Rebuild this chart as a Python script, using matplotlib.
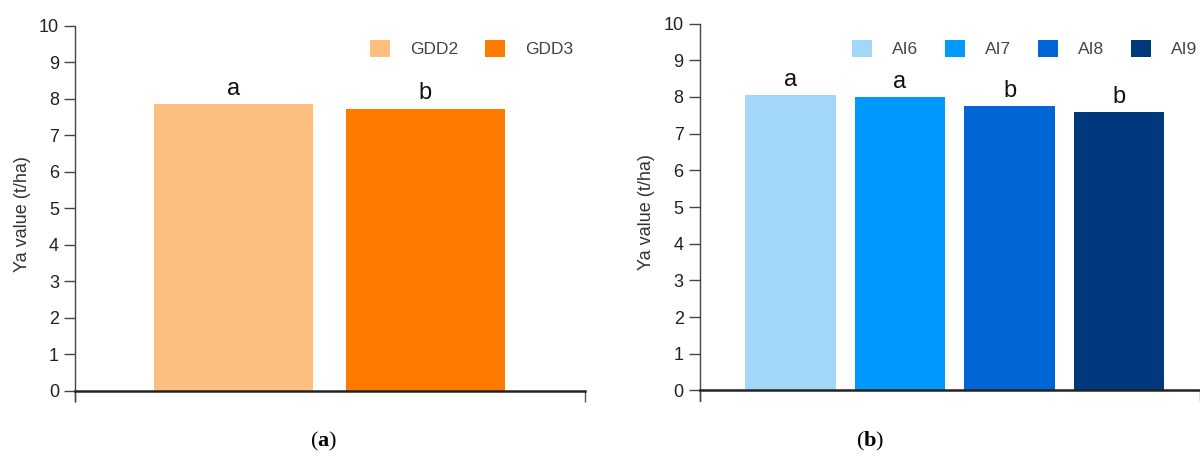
import matplotlib.pyplot as plt
import numpy as np

plt.rcParams['font.family'] = ['Liberation Sans', 'DejaVu Sans']
plt.rcParams['mathtext.fontset'] = 'custom'
plt.rcParams['mathtext.rm'] = 'Liberation Serif'
plt.rcParams['mathtext.bf'] = 'Liberation Serif:bold'

# Ya values by growing degree days group
gdd_labels = ['GDD2', 'GDD3']
gdd_values = [7.85, 7.73]
gdd_letters = ['a', 'b']
gdd_colors = ['#FDBF7F', '#FF7B00']

# Ya values by aridity index group
ai_labels = ['AI6', 'AI7', 'AI8', 'AI9']
ai_values = [8.05, 8.00, 7.75, 7.58]
ai_letters = ['a', 'a', 'b', 'b']
ai_colors = ['#A2D7F8', '#0099FF', '#0066D6', '#00387E']

yticks = list(range(0, 11))


def draw_panel(ax, labels, values, letters, colors, xlim, legend_anchor):
    x = np.arange(len(values))
    bars = ax.bar(x, values, width=0.83, color=colors, label=labels, zorder=2)
    for xi, v, s in zip(x, values, letters):
        ax.annotate(s, (xi, v), xytext=(0, 3), textcoords='offset points',
                    ha='center', va='bottom', fontsize=17, color='#111111')

    ax.set_xlim(*xlim)
    ax.set_ylim(-0.3, 10)
    ax.set_yticks(yticks)
    ax.tick_params(axis='y', direction='out', length=8, width=1,
                   color='#444444', labelsize=13, labelcolor='#222222', pad=3.5)

    # baseline at zero with end ticks hanging below it
    ax.spines['bottom'].set_position(('data', 0))
    ax.spines['bottom'].set_linewidth(1.8)
    ax.spines['bottom'].set_color('#222222')
    ax.set_xticks(list(xlim))
    ax.tick_params(axis='x', direction='out', length=8, width=1,
                   color='#555555', labelbottom=False)
    ax.spines['left'].set_color('#444444')
    ax.spines['left'].set_linewidth(1)
    for side in ['top', 'right']:
        ax.spines[side].set_visible(False)

    ax.set_ylabel('Ya value (t/ha)', fontsize=13, color='#333333', labelpad=6)

    ax.legend(bars, labels, ncol=len(labels), frameon=False, loc='center left',
              bbox_to_anchor=legend_anchor, fontsize=12.5, labelcolor='#444444',
              handlelength=1.15, handleheight=1.15, handletextpad=1.15,
              columnspacing=1.55, borderpad=0, borderaxespad=0)


fig = plt.figure(figsize=(12, 4.62), dpi=100)
ax1 = fig.add_axes([0.0625, 0.131, 0.425, 0.813])
ax2 = fig.add_axes([0.583, 0.131, 0.417, 0.818])

draw_panel(ax1, gdd_labels, gdd_values, gdd_letters, gdd_colors,
           (-0.828, 1.835), (0.578, 0.94))
draw_panel(ax2, ai_labels, ai_values, ai_letters, ai_colors,
           (-0.831, 3.74), (0.305, 0.934))

fig.text(0.27, 0.045, r'($\mathbf{a}$)', ha='center', va='center',
         fontsize=16, family='Liberation Serif')
fig.text(0.725, 0.045, r'($\mathbf{b}$)', ha='center', va='center',
         fontsize=16, family='Liberation Serif')

fig.savefig('out.png', dpi=100)
